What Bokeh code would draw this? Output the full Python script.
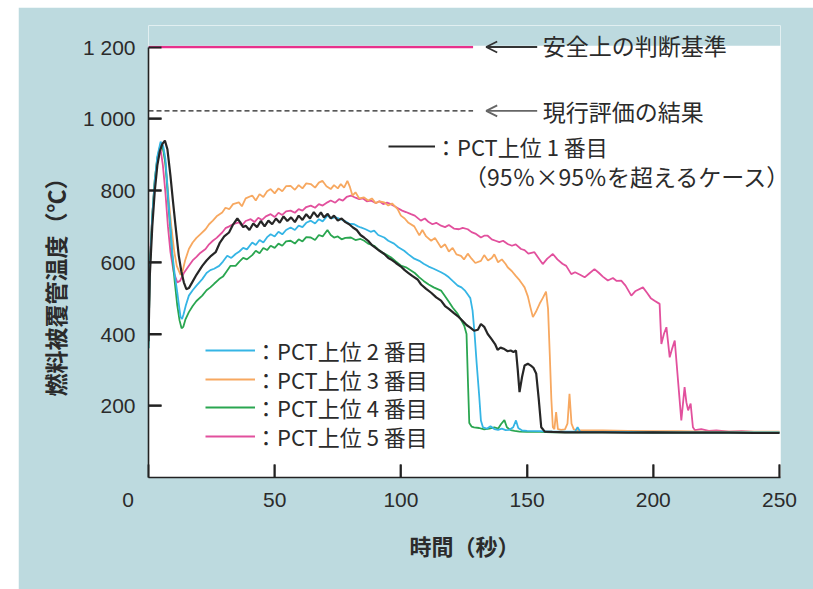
from bokeh.plotting import figure
from bokeh.models import (Range1d, FixedTicker, Legend, LegendItem, Label,
                          Arrow, OpenHead, BoxAnnotation)
from bokeh.embed import file_html
from bokeh.resources import INLINE

# ---------------- data ----------------
t1 = [0, 0.5, 1.5, 2.5, 3.5, 4.5, 5.5, 6.5, 7.5, 8.7, 9.7, 10.7, 12, 13, 14, 15, 16, 17.3, 19, 21.3,
      23, 24.8, 26.6, 28.3, 30, 31.9, 33.5, 35.2, 36.3, 37.5, 38.5, 40, 41.5, 43, 44.5, 46, 47.5, 49,
      50.5, 52, 53.5, 55, 56.5, 58, 59.5, 61, 62.5, 64, 65.5, 67, 68.3, 69.5, 71, 72.2, 73.5, 75, 76.5,
      78, 79.5, 81, 82.5, 84, 85.4, 87, 88.5, 90, 91.5, 93.4, 95, 96.5, 98, 100, 101.5, 103, 104.5,
      106.6, 108, 110, 112, 114, 115.9, 117.5, 119, 121, 123, 124.5, 126, 127.5, 129, 130.5, 131.7,
      133, 134.4, 136, 137.3, 138.3, 139.5, 141, 142.3, 143.5, 144.6, 145.6, 146.3, 147, 148, 149,
      150.3, 151.5, 152.5, 153.6, 154.6, 155.6, 157, 160, 165, 170, 180, 190, 200, 210, 220, 230,
      240, 250]
temp1 = [380, 560, 700, 800, 870, 910, 930, 939, 915, 841, 770, 702, 618, 575, 544, 525, 528, 544, 565, 590,
         605, 618, 628, 655, 672, 683, 705, 722, 712, 698, 702, 690, 708, 698, 715, 700, 716, 706,
         722, 710, 728, 715, 725, 712, 730, 718, 734, 722, 740, 726, 739, 725, 735, 722, 730, 716, 722,
         712, 706, 697, 690, 676, 669, 660, 648, 640, 632, 623, 612, 606, 598, 588, 578, 570, 562,
         552, 538, 526, 515, 502, 493, 478, 470, 458, 447, 436, 425, 418, 409, 412, 428,
         420, 400, 385, 372, 356, 362, 358, 352, 354, 350, 354, 300, 238, 280, 312,
         317, 312, 306, 290, 220, 140, 128, 127, 126, 126, 126, 125, 126, 125, 125, 125,
         124, 124]

t2 = [0, 0.5, 1.5, 2.5, 3.5, 4.8, 5.8, 6.7, 7.4, 8.1, 8.8, 9.4, 10.4, 11.4, 12.1, 12.7, 13.3, 13.9,
      14.8, 16, 17.5, 19, 21.3, 23, 24.5, 26, 28, 29.5, 31.2, 32.8, 34.5, 36, 37.5, 39, 41.1, 42.5, 44,
      45.5, 47, 48.4, 50, 51.5, 53, 54.5, 56.3, 58, 59.5, 61, 62.5, 64.3, 66, 67.5, 69, 70.9, 72.5, 74,
      76.2, 78, 79.5, 81.5, 83, 84.1, 86, 88, 89.4, 91, 93.4, 95, 97.3, 99, 101.3, 103, 105.3, 107.3,
      109, 111, 113, 115.9, 117.5, 119, 120.5, 122.5, 124, 125.5, 126.5, 127.5, 128.4, 129.2, 130,
      131, 131.7, 132.5, 134, 135.5, 137, 138.5, 140, 141.5, 143, 144.5, 145.6, 146.5, 148, 150, 155,
      160, 165, 169, 170, 171, 175, 180, 190, 200, 210, 220, 230, 240, 250]
temp2 = [360, 580, 730, 830, 895, 936, 925, 888, 820, 748, 690, 628, 565, 516, 478, 447, 442, 455,
         480, 507, 522, 535, 553, 570, 578, 582, 590, 602, 618, 612, 623, 630, 640, 636, 655, 648, 662,
         655, 670, 678, 672, 685, 678, 690, 697, 690, 702, 698, 710, 716, 708, 720, 714, 730, 722, 726,
         720, 714, 708, 706, 700, 697, 692, 685, 688, 676, 669, 660, 652, 642, 632, 622, 610, 604,
         596, 588, 582, 572, 566, 558, 548, 535, 530, 520, 510, 500, 465, 400, 320,
         230, 159, 140, 136, 143, 135, 133, 136, 132, 133, 140, 159, 138, 131, 130, 129,
         128, 128, 128, 140, 128, 127, 127, 127, 126, 126, 126, 126, 126, 126]

t3 = [0, 0.5, 1.5, 2.5, 3.5, 5.1, 6.2, 7.2, 8.2, 9.2, 10.2, 11.2, 12.7, 13.5, 14.5, 16, 17.5, 19, 20.5,
      22.6, 24, 25.5, 27, 29.2, 30.5, 32, 33.5, 35.8, 37, 38.5, 41.1, 42.5, 44, 45.5, 47, 48.4, 50,
      51.5, 53, 54.5, 56.3, 58, 59.5, 61, 62.5, 64.3, 66, 67.5, 68.9, 70.5, 72.2, 73.5, 75, 76.2, 77.5,
      78.8, 79.8, 80.8, 82, 83.5, 85.4, 87, 88.5, 90, 91.5, 93.4, 95, 96.5, 98.7, 100, 101.5, 103,
      105.3, 107.3, 108.5, 110, 112, 113.5, 115.9, 117.5, 119, 120.5, 122, 123.8, 125, 126.5, 128,
      129.5, 131.7, 133, 134.5, 136, 137, 138.5, 140, 141.5, 142.3, 144, 145.5, 147, 148, 149, 150.3,
      151.3, 152.3, 153.5, 155, 156.2, 157.5, 158.3, 159, 159.6, 160.2, 160.8, 161.5, 162.2, 163.5,
      165, 166, 166.8, 167.6, 168.5, 170, 175, 180, 190, 200, 210, 220, 230, 240, 250]
temp3 = [370, 580, 730, 830, 890, 928, 905, 840, 760, 690, 630, 590, 565, 575, 605, 637, 655, 668, 678,
         692, 706, 716, 728, 739, 752, 748, 762, 767, 756, 778, 786, 772, 790, 782, 798, 804, 792,
         806, 798, 812, 813, 802, 815, 806, 820, 818, 808, 822, 827, 812, 804, 815, 806, 818, 808,
         827, 810, 786, 795, 778, 781, 772, 778, 765, 770, 767, 758, 764, 748, 730, 722, 710,
         700, 675, 690, 672, 660, 668, 641, 650, 630, 640, 622, 618, 608, 624, 610,
         598, 604, 620, 605, 612, 622, 600, 608, 595, 586, 575, 562, 550, 540, 530, 505,
         475, 447, 462, 485, 500, 518, 470, 340, 220, 140, 135, 182, 135, 133,
         134, 150, 233, 150, 134, 132, 131, 131, 130, 129, 129, 128, 128, 128, 128]

t4 = [0, 0.5, 1.5, 2.5, 3.5, 4.8, 5.8, 6.7, 7.4, 8.1, 8.8, 9.4, 10.4, 11.4, 12.3, 13.1, 13.8, 14.6, 16,
      17.5, 19, 21.3, 23, 24.5, 26, 28, 29.5, 31, 32.5, 34.5, 36, 37.5, 39, 41.1, 42.5, 44, 45.5, 47,
      48.4, 50, 51.5, 53, 54.5, 56.3, 58, 59.5, 61, 62.5, 64.3, 66, 67.5, 69, 70.9, 72.2, 73.5, 75,
      76.5, 78, 80.2, 82, 84, 85.5, 87, 89.4, 91, 92.5, 94, 96, 98, 100, 102, 104, 105.5, 107.3, 109,
      111, 113, 115.9, 117.5, 119, 120.5, 122.5, 123.8, 125.1, 126, 126.6, 127.1, 128, 129, 131, 133,
      135, 137, 138.5, 139.7, 141, 142, 143.5, 145, 147, 150, 155, 160, 170, 180, 190, 200, 210, 220,
      230, 240, 250]
temp4 = [360, 580, 730, 830, 890, 930, 915, 875, 810, 740, 680, 620, 545, 480, 438, 416, 420, 440, 461,
         478, 492, 507, 522, 530, 540, 553, 560, 575, 590, 590, 602, 612, 608, 620, 632, 625, 640, 634,
         646, 640, 652, 646, 658, 660, 652, 664, 658, 670, 669, 662, 676, 672, 690, 676, 669, 672,
         664, 668, 669, 662, 665, 660, 652, 646, 636, 628, 622, 614, 602, 591, 586, 577, 570, 558, 548,
         538, 530, 521, 505, 490, 474, 456, 440, 423, 400, 260, 152, 142, 140, 138, 134,
         136, 140, 136, 149, 160, 140, 132, 130, 128, 127, 127, 126, 126, 126, 126, 125, 125, 125,
         125, 125, 125]

t5 = [0, 0.5, 1.5, 2.5, 3.5, 4.8, 5.7, 6.7, 7.7, 8.7, 10, 11.4, 12.5, 14, 16, 17.5, 19, 20.5, 22.6, 24,
      25.5, 27, 29.2, 30.5, 32, 33.5, 35.8, 37, 38.5, 40.5, 42, 43.5, 45, 46.5, 48.4, 50, 51.5, 53,
      54.5, 56.3, 58, 59.5, 61, 62.5, 64.3, 66, 67.5, 69, 70.9, 72.2, 74, 75.5, 77, 78.5, 80.2, 82,
      83.5, 85, 86.5, 88.1, 90, 91.5, 93, 94.5, 96, 97.5, 99, 100.5, 102, 104, 105.5, 107.9, 109.5,
      111, 112.5, 114, 115.9, 117.5, 119, 121, 123, 124.5, 126.5, 128, 129.5, 131.7, 133, 134.4, 136,
      137.5, 139, 140.5, 142.3, 144, 145.5, 147.6, 149, 150.5, 152.9, 154.5, 156.2, 158, 160.2, 162,
      164, 165.5, 167.5, 169, 171, 172.8, 174.5, 176.7, 178.5, 180, 182, 184, 185.5, 187.3, 189,
      191.3, 193, 195.9, 197.5, 199, 200.5, 202.5, 203.2, 204.2, 205.2, 206.5, 207.5, 208.5, 209.8,
      211.1, 212.4, 213.1, 213.8, 214.8, 215.7, 216.5, 219, 222, 225, 230, 235, 240, 245, 250]
temp5 = [380, 600, 730, 820, 880, 915, 870, 795, 700, 628, 572, 544, 548, 570, 590, 605, 615, 626, 637, 650,
         660, 668, 683, 695, 700, 706, 711, 702, 715, 720, 712, 724, 718, 728, 734, 726, 738, 732,
         742, 744, 738, 748, 744, 754, 758, 752, 762, 758, 767, 772, 766, 776, 772, 782, 786, 780,
         776, 778, 770, 772, 765, 770, 762, 766, 762, 756, 750, 744, 740, 734, 730, 716, 722,
         712, 706, 710, 702, 698, 704, 694, 692, 696, 692, 684, 680, 669, 674, 674, 664,
         660, 656, 660, 651, 646, 650, 637, 634, 624, 628, 612, 595, 610, 623, 608,
         596, 590, 567, 572, 565, 558, 568, 581, 570, 560, 549, 556, 548, 549, 535,
         507, 520, 530, 515, 500, 493, 484, 372, 400, 419, 335, 360, 382, 270,
         159, 252, 210, 187, 206, 140, 132, 135, 130, 131, 128, 129, 127, 127, 126]

series_labels = ["：PCT上位 1 番目", "：PCT上位 2 番目", "：PCT上位 3 番目",
                 "：PCT上位 4 番目", "：PCT上位 5 番目"]
series_note = "（95％×95％を超えるケース）"

x_ticks = [0, 50, 100, 150, 200, 250]
y_ticks = [200, 400, 600, 800, 1000, 1200]
y_tick_labels = {200: "200", 400: "400", 600: "600", 800: "800", 1000: "1 000", 1200: "1 200"}

safety_limit = [1200, 1200]
current_eval = [1022, 1022]
ref_line_t = [0, 128.6]

x_title = "時間（秒）"
y_title = "燃料被覆管温度（℃）"
safety_text = "安全上の判断基準"
current_text = "現行評価の結果"

# ---------------- styling ----------------
BG = "#bddadf"
TXT = "#2b2b2b"
AX = "#222222"
NUM_FONT = "Liberation Sans"
JP_FONT = "Noto Sans CJK JP"
colors = ["#262626", "#35b5e5", "#f7a860", "#2aa650", "#e2509d"]

Y_MAX = 1260
X_MAX = 250.4
W, H = 795, 582
BL, BR, BT, BB = 130, 33, 18, 112
px_x = (W - BL - BR) / X_MAX
px_y = (H - BT - BB) / Y_MAX
TICK = 13
TICK_W = 1.8

p = figure(width=W, height=H, x_range=Range1d(0, X_MAX), y_range=Range1d(0, Y_MAX),
           output_backend="svg", toolbar_location=None,
           min_border_left=BL, min_border_right=BR, min_border_top=BT, min_border_bottom=BB,
           background_fill_color="white", border_fill_color=BG, outline_line_color=None,
           margin=(7, 0, 0, 18), title_location="left")
p.grid.visible = False

for ax in (p.xaxis, p.yaxis):
    ax.axis_line_color = AX
    ax.axis_line_width = 1.6
    ax.major_tick_line_color = AX
    ax.major_tick_line_width = TICK_W
    ax.major_tick_in = TICK
    ax.major_tick_out = 0
    ax.minor_tick_line_color = None
    ax.major_label_text_font = NUM_FONT
    ax.major_label_text_font_size = "21px"
    ax.major_label_text_color = TXT

p.xaxis.ticker = FixedTicker(ticks=x_ticks)
p.xaxis.major_label_overrides = {0: "0" + "\u00a0" * 7}
p.xaxis.major_label_standoff = 10
p.xaxis.axis_label = x_title
p.xaxis.axis_label_standoff = 15
p.xaxis.axis_label_text_font = JP_FONT
p.xaxis.axis_label_text_font_size = "22px"
p.xaxis.axis_label_text_font_style = "bold"
p.xaxis.axis_label_text_color = TXT

p.yaxis.ticker = FixedTicker(ticks=y_ticks)
p.yaxis.major_label_overrides = y_tick_labels
p.yaxis.major_label_standoff = 13
p.yaxis.bounds = (0, 1200)

p.title.text = y_title
p.title.align = "left"
p.title.offset = 81
p.title.standoff = 15
p.title.text_font = JP_FONT
p.title.text_font_size = "23px"
p.title.text_font_style = "bold"
p.title.text_color = TXT

p.line(ref_line_t, safety_limit, line_color="#e8308c", line_width=2.5)
p.line(ref_line_t, current_eval, line_color=AX, line_width=1.3, line_dash="5 3")

r5 = p.line(t5, temp5, line_color=colors[4], line_width=1.8)
r3 = p.line(t3, temp3, line_color=colors[2], line_width=1.8)
r4 = p.line(t4, temp4, line_color=colors[3], line_width=1.8)
r2 = p.line(t2, temp2, line_color=colors[1], line_width=1.8)
r1 = p.line(t1, temp1, line_color=colors[0], line_width=2.2)

# tick marks drawn with the line glyph, one short line per tick (derived from the tick lists)
tick_len_y = TICK / px_y
tick_len_x = TICK / px_x
for x in x_ticks[1:]:
    p.line([x, x], [0.5, tick_len_y], line_color=AX, line_width=TICK_W)
for y in y_ticks[:-1]:
    p.line([0.2, tick_len_x], [y, y], line_color=AX, line_width=TICK_W)

p.add_layout(BoxAnnotation(bottom=1200 + 1.3 / px_y, fill_color=BG, fill_alpha=1, line_color=None))

def make_legend(label, renderer, loc, gw):
    return Legend(items=[LegendItem(label=label, renderers=[renderer])], location=loc,
                  label_text_font=JP_FONT, label_text_font_size="22px", label_text_color=TXT,
                  glyph_width=gw, glyph_height=18, label_height=18, label_standoff=0,
                  spacing=0, padding=0, margin=0, border_line_color=None,
                  background_fill_alpha=0, label_text_line_height=1.0)

p.add_layout(make_legend(series_labels[0], r1, (240, 315), 47))
for lbl, rend, ypos in zip(series_labels[1:], [r2, r3, r4, r5], [111, 82, 54, 25]):
    p.add_layout(make_legend(lbl, rend, (57, ypos), 50))

p.add_layout(Label(x=125.0, y=841, text=series_note, text_font=JP_FONT,
                   text_font_size="23px", text_color=TXT, text_baseline="middle"))

for yv, txt, col in ((safety_limit[0], safety_text, "#333333"), (current_eval[0], current_text, "#666666")):
    p.add_layout(Arrow(x_start=154.0, y_start=yv, x_end=133.8, y_end=yv,
                       line_color=col, line_width=1.8,
                       end=OpenHead(size=11, line_color=col, line_width=1.8)))
    p.add_layout(Label(x=156.2, y=yv + (5 if yv == 1200 else 0), text=txt, text_font=JP_FONT,
                       text_font_size="23px", text_color=TXT, text_baseline="middle"))

open("out.html", "w").write(file_html(p, INLINE))
